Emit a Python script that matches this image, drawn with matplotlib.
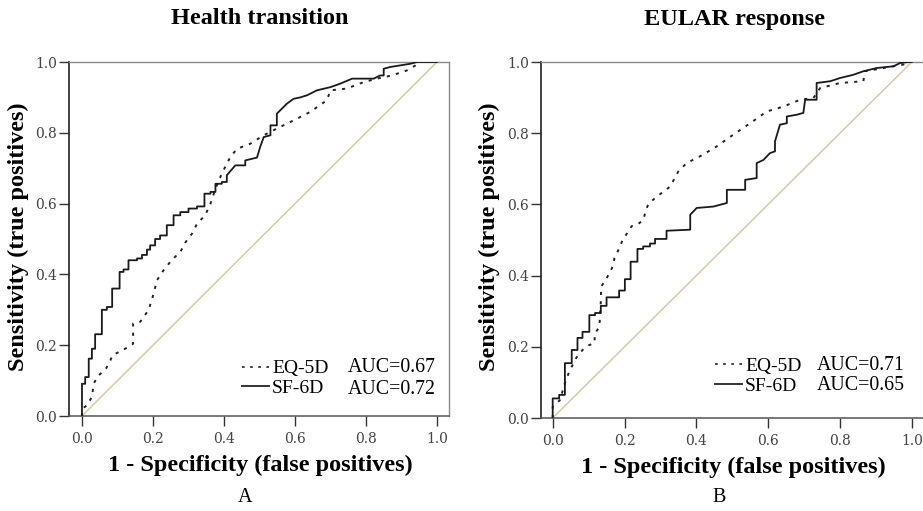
import matplotlib
matplotlib.use("Agg")
import matplotlib.pyplot as plt

# ---------------- data ----------------
titles = ["Health transition", "EULAR response"]
panel_letters = ["A", "B"]
series_names = ["EQ-5D", "SF-6D"]
auc_a = ["0.67", "0.72"]
auc_b = ["0.71", "0.65"]
ticks = [0.0, 0.2, 0.4, 0.6, 0.8, 1.0]
tick_labels = ["0.0", "0.2", "0.4", "0.6", "0.8", "1.0"]

# Panel A - EQ-5D (dotted)
a_eq_x = [0, 0, 0.014, 0.028, 0.033, 0.047, 0.066, 0.08, 0.085, 0.108, 0.131, 0.144, 0.144,
          0.164, 0.188, 0.202, 0.211, 0.23, 0.254, 0.277, 0.291, 0.31, 0.324, 0.347, 0.362,
          0.376, 0.394, 0.418, 0.437, 0.474, 0.512, 0.549, 0.596, 0.643, 0.69, 0.70, 0.746,
          0.793, 0.831, 0.873, 0.915, 0.939, 0.953, 1.0]
a_eq_y = [0, 0.02, 0.03, 0.054, 0.092, 0.115, 0.131, 0.157, 0.171, 0.183, 0.195, 0.204, 0.261,
          0.266, 0.30, 0.346, 0.383, 0.412, 0.442, 0.463, 0.49, 0.515, 0.543, 0.567, 0.60,
          0.642, 0.685, 0.732, 0.755, 0.769, 0.793, 0.812, 0.835, 0.859, 0.892, 0.92, 0.925,
          0.943, 0.953, 0.962, 0.976, 0.99, 1.0, 1.0]

# Panel A - SF-6D (solid)
a_sf_x = [0, 0, 0.009, 0.009, 0.019, 0.019, 0.028, 0.028, 0.037, 0.037, 0.056, 0.056, 0.07, 0.07,
          0.085, 0.085, 0.106, 0.106, 0.117, 0.117, 0.131, 0.131, 0.155, 0.155, 0.169, 0.169,
          0.183, 0.183, 0.192, 0.192, 0.206, 0.206, 0.22, 0.22, 0.239, 0.239, 0.258, 0.258,
          0.277, 0.277, 0.300, 0.300, 0.324, 0.324, 0.345, 0.345, 0.362, 0.362, 0.376, 0.376,
          0.394, 0.394, 0.408, 0.408, 0.432, 0.46, 0.46, 0.493, 0.502, 0.512, 0.531, 0.531,
          0.549, 0.549, 0.577, 0.596, 0.615, 0.634, 0.662, 0.70, 0.728, 0.761, 0.822, 0.84,
          0.85, 0.85, 0.869, 0.925, 0.944, 1.0]
a_sf_y = [0, 0.091, 0.091, 0.11, 0.11, 0.162, 0.162, 0.19, 0.19, 0.231, 0.231, 0.30, 0.30, 0.308,
          0.308, 0.36, 0.36, 0.407, 0.407, 0.414, 0.414, 0.44, 0.44, 0.445, 0.445, 0.455,
          0.455, 0.47, 0.47, 0.482, 0.482, 0.50, 0.50, 0.51, 0.51, 0.539, 0.539, 0.567,
          0.567, 0.576, 0.576, 0.586, 0.586, 0.592, 0.592, 0.628, 0.628, 0.633, 0.633, 0.656,
          0.656, 0.661, 0.661, 0.68, 0.708, 0.708, 0.722, 0.73, 0.76, 0.788, 0.793, 0.821,
          0.821, 0.854, 0.882, 0.896, 0.90, 0.906, 0.92, 0.929, 0.939, 0.953, 0.953, 0.962,
          0.962, 0.981, 0.986, 0.995, 1.0, 1.0]

# Panel B - EQ-5D (dotted)
b_eq_x = [0, 0, 0.02, 0.034, 0.046, 0.065, 0.083, 0.102, 0.116, 0.118, 0.13, 0.134, 0.135,
          0.150, 0.167, 0.172, 0.183, 0.197, 0.204, 0.22, 0.238, 0.252, 0.258, 0.266, 0.29,
          0.327, 0.35, 0.373, 0.41, 0.457, 0.503, 0.55, 0.596, 0.643, 0.689, 0.726, 0.745,
          0.80, 0.865, 0.87, 0.921, 0.977, 0.995, 1.0]
b_eq_y = [0, 0.032, 0.05, 0.098, 0.13, 0.168, 0.191, 0.205, 0.21, 0.238, 0.256, 0.327, 0.369,
          0.392, 0.425, 0.449, 0.472, 0.505, 0.514, 0.539, 0.545, 0.556, 0.577, 0.601, 0.622,
          0.65, 0.693, 0.716, 0.735, 0.763, 0.796, 0.828, 0.861, 0.875, 0.894, 0.899, 0.927,
          0.941, 0.946, 0.974, 0.983, 0.993, 1.0, 1.0]

# Panel B - SF-6D (solid)
b_sf_x = [0, 0, 0.018, 0.018, 0.034, 0.034, 0.053, 0.053, 0.069, 0.069, 0.083, 0.083, 0.102,
          0.102, 0.118, 0.118, 0.134, 0.134, 0.150, 0.150, 0.185, 0.185, 0.201, 0.201, 0.217,
          0.217, 0.236, 0.236, 0.252, 0.252, 0.271, 0.271, 0.285, 0.285, 0.317, 0.317, 0.383,
          0.383, 0.401, 0.448, 0.485, 0.485, 0.536, 0.536, 0.568, 0.568, 0.587, 0.605, 0.619,
          0.619, 0.633, 0.652, 0.652, 0.68, 0.698, 0.703, 0.735, 0.735, 0.773, 0.80, 0.837,
          0.865, 0.902, 0.949, 0.967, 0.991, 1.0]
b_sf_y = [0, 0.055, 0.055, 0.065, 0.065, 0.154, 0.154, 0.191, 0.191, 0.225, 0.225, 0.242, 0.242,
          0.289, 0.289, 0.295, 0.295, 0.315, 0.315, 0.339, 0.339, 0.358, 0.358, 0.39, 0.39,
          0.439, 0.439, 0.475, 0.475, 0.482, 0.482, 0.49, 0.49, 0.503, 0.503, 0.526, 0.529,
          0.571, 0.59, 0.594, 0.604, 0.641, 0.641, 0.669, 0.674, 0.716, 0.725, 0.744, 0.749,
          0.777, 0.824, 0.828, 0.847, 0.852, 0.857, 0.894, 0.894, 0.941, 0.946, 0.955, 0.964,
          0.974, 0.983, 0.988, 0.997, 1.0, 1.0]

diag = [0.0, 1.0]

# ---------------- drawing ----------------
SERIF = ["Liberation Serif", "DejaVu Serif"]
plt.rcParams["font.family"] = SERIF

fig = plt.figure(figsize=(9.23, 5.11), dpi=100)
W, H = 923.0, 511.0

def frac_rect(x0, y_top, x1, y_bot):
    return [x0 / W, 1 - y_bot / H, (x1 - x0) / W, (y_bot - y_top) / H]

panels = [
    dict(rect=frac_rect(69, 62, 449, 416), xlim=(-0.0366, 1.034),
         eq=(a_eq_x, a_eq_y), sf=(a_sf_x, a_sf_y), auc=auc_a,
         title_xy=(260, 18), ylab_x=18, xlab_xy=(260, 465), letter_xy=(245, 498),
         leg=(0.455, 0.136, 0.076), auc_x=0.734),
    dict(rect=frac_rect(540.7, 62, 924, 418), xlim=(-0.0334, 1.034),
         eq=(b_eq_x, b_eq_y), sf=(b_sf_x, b_sf_y), auc=auc_b,
         title_xy=(734, 19), ylab_x=489, xlab_xy=(733, 467), letter_xy=(719, 498),
         leg=(0.455, 0.147, 0.090), auc_x=0.721),
]

dot_style = (0, (1.6, 3.2))

for i, p in enumerate(panels):
    ax = fig.add_axes(p["rect"])
    ax.set_xlim(*p["xlim"])
    ax.set_ylim(0, 1)
    ax.plot(diag, diag, color="#d6cb9f", lw=1.1, zorder=1)
    ax.plot(p["eq"][0], p["eq"][1], color="#222222", lw=1.4, linestyle=dot_style, zorder=2)
    ax.plot(p["sf"][0], p["sf"][1], color="#1a1a1a", lw=1.3, zorder=3)

    ax.spines["left"].set_color("#222222")
    ax.spines["left"].set_linewidth(1.2)
    ax.spines["bottom"].set_color("#555555")
    ax.spines["bottom"].set_linewidth(1.1)
    for s in ("top", "right"):
        ax.spines[s].set_color("#8a8a8a")
        ax.spines[s].set_linewidth(1.0)

    ax.set_xticks(ticks)
    ax.set_xticklabels(tick_labels)
    ax.set_yticks(ticks)
    ax.set_yticklabels(tick_labels)
    ax.tick_params(axis="y", length=7, width=1, color="#333333", pad=1.5,
                   labelsize=10, labelcolor="#444444")
    ax.tick_params(axis="x", length=7.5, width=1, color="#333333", pad=4,
                   labelsize=10, labelcolor="#444444")
    for lab in ax.get_xticklabels() + ax.get_yticklabels():
        lab.set_family(["DejaVu Serif"])

    # legend
    lx, ly1, ly2 = p["leg"]
    eq_line = ax.plot([], [], color="#333333", lw=1.3, linestyle=(0, (1.5, 3)))[0]
    sf_line = ax.plot([], [], color="#333333", lw=1.4)[0]
    ax.legend([eq_line, sf_line], series_names, loc="center left",
              bbox_to_anchor=(lx, (ly1 + ly2) / 2), frameon=False,
              handlelength=1.4, handletextpad=0.15, borderpad=0, borderaxespad=0,
              labelspacing=0.12, fontsize=14)
    ax.text(p["auc_x"], ly1, "AUC=" + p["auc"][0], transform=ax.transAxes,
            fontsize=14.3, va="center", ha="left")
    ax.text(p["auc_x"], ly2, "AUC=" + p["auc"][1], transform=ax.transAxes,
            fontsize=14.3, va="center", ha="left")

    tx, ty = p["title_xy"]
    fig.text(tx / W, 1 - ty / H, titles[i], ha="center", va="center",
             fontsize=17.5, fontweight="bold")
    fig.text(p["ylab_x"] / W, 1 - 237 / H, "Sensitivity (true positives)", rotation=90,
             ha="center", va="center", fontsize=17.5, fontweight="bold")
    xx, xy = p["xlab_xy"]
    fig.text(xx / W, 1 - xy / H, "1 - Specificity (false positives)", ha="center",
             va="center", fontsize=17.5, fontweight="bold")
    lx_, ly_ = p["letter_xy"]
    fig.text(lx_ / W, 1 - ly_ / H, panel_letters[i], ha="center", va="center",
             fontsize=14.5)

fig.savefig("out.png", dpi=100)
